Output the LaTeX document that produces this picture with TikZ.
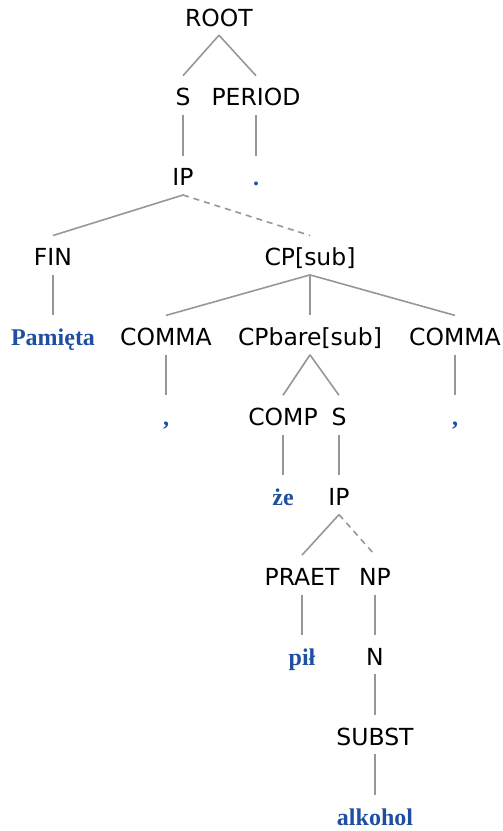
\documentclass[tikz,border=0pt]{standalone}
\usepackage{fontspec}
\usetikzlibrary{positioning}
\newfontfamily\catfont{DejaVu Sans}
\newfontfamily\leaffont{Liberation Serif}
\definecolor{lfblue}{HTML}{1F4FA0}
\definecolor{edgegray}{HTML}{979797}

\begin{document}
\begin{tikzpicture}[node distance=40.5pt,
    cat/.style={inner sep=0pt,text height=30pt,text depth=9pt,
      font=\catfont\fontsize{23.5}{27}\selectfont},
    lf/.style={cat,font=\leaffont\bfseries\fontsize{24}{28}\selectfont,text=lfblue},
    e/.style={draw=edgegray,line width=1.6pt},
    d/.style={e,dash pattern=on 6pt off 5pt}]
    \useasboundingbox (0,0) rectangle (503pt,-831pt);
    \node[cat,anchor=base] (root) at (219pt,-26pt) {ROOT};
    \node[cat,below=of root,xshift=-36pt] (s) {S};
    \node[cat,below=of root,xshift=37pt] (period) {PERIOD};
    \node[cat,below=of s] (ip) {IP};
    \node[lf,below=of period] (dot) {.};
    \node[cat,below=of ip,xshift=-130pt] (fin) {FIN};
    \node[cat,below=of ip,xshift=127pt] (cp) {CP[sub]};
    \node[lf,below=of fin] (pam) {Pamięta};
    \node[cat,below=of cp,xshift=-144pt] (commaA) {COMMA};
    \node[cat,below=of cp] (cpbare) {CPbare[sub]};
    \node[cat,below=of cp,xshift=145pt] (commaB) {COMMA};
    \node[lf,below=of commaA] (cA) {,};
    \node[cat,below=of cpbare,xshift=-27pt] (comp) {COMP};
    \node[cat,below=of cpbare,xshift=29pt] (s2) {S};
    \node[lf,below=of commaB] (cB) {,};
    \node[lf,below=of comp] (ze) {że};
    \node[cat,below=of s2] (ip2) {IP};
    \node[cat,below=of ip2,xshift=-37pt] (praet) {PRAET};
    \node[cat,below=of ip2,xshift=36pt] (np) {NP};
    \node[lf,below=of praet] (pil) {pił};
    \node[cat,below=of np] (n) {N};
    \node[cat,below=of n] (subst) {SUBST};
    \node[lf,text depth=1pt,below=of subst] (alk) {alkohol};
    % edges
    \draw[e] (root.south)--(s.north); \draw[e] (root.south)--(period.north);
    \draw[e] (s.south)--(ip.north); \draw[e] (period.south)--(dot.north);
    \draw[e] (ip.south)--(fin.north); \draw[d] (ip.south)--(cp.north);
    \draw[e] (fin.south)--(pam.north);
    \draw[e] (cp.south)--(commaA.north); \draw[e] (cp.south)--(cpbare.north);
    \draw[e] (cp.south)--(commaB.north);
    \draw[e] (commaA.south)--(cA.north); \draw[e] (commaB.south)--(cB.north);
    \draw[e] (cpbare.south)--(comp.north); \draw[e] (cpbare.south)--(s2.north);
    \draw[e] (comp.south)--(ze.north); \draw[e] (s2.south)--(ip2.north);
    \draw[e] (ip2.south)--(praet.north); \draw[d] (ip2.south)--(np.north);
    \draw[e] (praet.south)--(pil.north); \draw[e] (np.south)--(n.north);
    \draw[e] (n.south)--(subst.north); \draw[e] (subst.south)--(alk.north);
\end{tikzpicture}
\end{document}
